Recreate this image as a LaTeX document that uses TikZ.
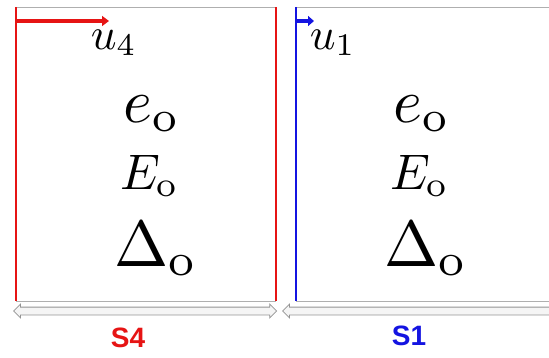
\documentclass[tikz,border=0pt]{standalone}
\usepackage{fontspec}
\newfontfamily\labelfont{Liberation Sans}
\usetikzlibrary{shapes.arrows,arrows.meta}
\definecolor{myred}{RGB}{230,20,20}
\definecolor{myblue}{RGB}{20,20,225}
\definecolor{edgegray}{RGB}{175,175,175}
\tikzset{
  x=1pt,y=-1pt,
  dbl/.style={double arrow, draw=gray!85, fill=gray!8, line width=0.8pt, inner xsep=0pt, inner ysep=3.5pt,
    double arrow head extend=3pt, anchor=west},
  sym/.style={inner sep=0pt, anchor=base west},
  lab/.style={font=\labelfont\bfseries\fontsize{28}{28}\selectfont, inner sep=0pt},
  topline/.style={draw=edgegray, line width=1pt},
}
\begin{document}
\begin{tikzpicture}
\useasboundingbox (0,0) rectangle (549,357);
% box S4
\coordinate (a1) at (16,7);
\coordinate (a2) at (276,7);
\coordinate (a3) at (276,301);
\coordinate (a4) at (16,301);
\draw[topline] (a1) -- (a2);
\draw[topline] (a4) -- (a3);
\draw[myred, line width=1.6pt] (a1) -- (a4);
\draw[myred, line width=1.6pt] (a2) -- (a3);
% box S1
\coordinate (b1) at (296,7);
\coordinate (b2) at (549,7);
\coordinate (b3) at (549,301);
\coordinate (b4) at (296,301);
\draw[topline] (b1) -- (b2);
\draw[topline] (b4) -- (b3);
\draw[myblue, line width=1.6pt] (b1) -- (b4);
% velocity arrows
\coordinate (ra) at (16,21);
\coordinate (rb) at (109,21);
\draw[myred, line width=3.8pt, -{Triangle[length=7pt,width=10pt]}] (ra) -- (rb);
\coordinate (ba) at (296,21);
\coordinate (bb) at (314,21);
\draw[myblue, line width=3.8pt, -{Triangle[length=6pt,width=10pt]}] (ba) -- (bb);
% labels u
\node[sym, scale=4.5] (u4) at (90,49) {$u_4$};
\node[sym, scale=4.5] (u1) at (309,49) {$u_1$};
% symbols box 1
\node[sym, scale=6.2] (e1) at (122,122) {$e_{\mathrm{o}}$};
\node[sym, scale=5] (E1) at (119,189) {$E_{\mathrm{o}}$};
\node[sym, scale=6.5] (D1) at (113,266) {$\Delta_{\mathrm{o}}$};
% symbols box 2
\node[sym, scale=6.2] (e2) at (392,122) {$e_{\mathrm{o}}$};
\node[sym, scale=5] (E2) at (389,189) {$E_{\mathrm{o}}$};
\node[sym, scale=6.5] (D2) at (383,266) {$\Delta_{\mathrm{o}}$};
% double arrows
\node[dbl, minimum height=263pt] (w1) at (13,311) {};
\node[dbl, minimum height=280pt] (w2) at (282,311) {};
% labels
\node[lab, text=myred] (s4) at (128,338) {S4};
\node[lab, text=myblue] (s1) at (409,336) {S1};
\end{tikzpicture}
\end{document}
